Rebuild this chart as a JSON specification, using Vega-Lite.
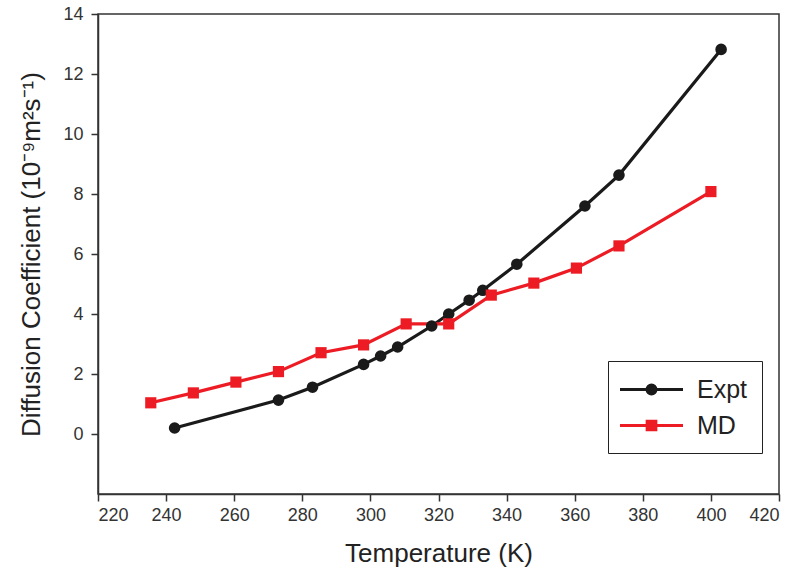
{
  "$schema": "https://vega.github.io/schema/vega-lite/v6.json",
  "width": 681,
  "height": 480,
  "autosize": {"type": "none"},
  "padding": {"left": 98, "top": 14, "right": 21, "bottom": 84},
  "background": "white",
  "config": {
    "font": "Liberation Sans",
    "view": {"stroke": "#333333", "strokeWidth": 1.5},
    "axis": {
      "grid": false,
      "domainColor": "#333333",
      "domainWidth": 1.5,
      "tickColor": "#333333",
      "tickWidth": 1.5,
      "tickSize": 7,
      "labelFont": "Liberation Sans",
      "labelFontSize": 18,
      "labelColor": "#333333",
      "titleFont": "Liberation Sans",
      "titleFontSize": 26,
      "titleFontWeight": "normal",
      "titleColor": "#222222"
    }
  },
  "data": {
    "values": [
      {"series": "Expt", "T": 242.5, "D": 0.2},
      {"series": "Expt", "T": 273, "D": 1.13},
      {"series": "Expt", "T": 283, "D": 1.56},
      {"series": "Expt", "T": 298, "D": 2.32},
      {"series": "Expt", "T": 303, "D": 2.6},
      {"series": "Expt", "T": 308, "D": 2.9},
      {"series": "Expt", "T": 318, "D": 3.6},
      {"series": "Expt", "T": 323, "D": 4.0},
      {"series": "Expt", "T": 329, "D": 4.46},
      {"series": "Expt", "T": 333, "D": 4.79},
      {"series": "Expt", "T": 343, "D": 5.66},
      {"series": "Expt", "T": 363, "D": 7.6},
      {"series": "Expt", "T": 373, "D": 8.63},
      {"series": "Expt", "T": 403, "D": 12.82},
      {"series": "MD", "T": 235.5, "D": 1.04},
      {"series": "MD", "T": 248, "D": 1.37},
      {"series": "MD", "T": 260.5, "D": 1.73},
      {"series": "MD", "T": 273, "D": 2.08},
      {"series": "MD", "T": 285.5, "D": 2.71},
      {"series": "MD", "T": 298, "D": 2.97},
      {"series": "MD", "T": 310.5, "D": 3.67},
      {"series": "MD", "T": 323, "D": 3.67},
      {"series": "MD", "T": 335.5, "D": 4.63},
      {"series": "MD", "T": 348, "D": 5.03},
      {"series": "MD", "T": 360.5, "D": 5.53},
      {"series": "MD", "T": 373, "D": 6.27},
      {"series": "MD", "T": 400, "D": 8.08}
    ]
  },
  "encoding": {
    "x": {
      "field": "T",
      "type": "quantitative",
      "scale": {"domain": [220, 420], "nice": false, "zero": false},
      "axis": {"values": [220, 240, 260, 280, 300, 320, 340, 360, 380, 400, 420], "title": "Temperature (K)", "titlePadding": 16, "labelPadding": 5}
    },
    "y": {
      "field": "D",
      "type": "quantitative",
      "scale": {"domain": [-2, 14], "nice": false, "zero": false},
      "axis": {"values": [0, 2, 4, 6, 8, 10, 12, 14], "title": "Diffusion Coefficient (10⁻⁹m²s⁻¹)", "titlePadding": 18, "labelPadding": 8}
    }
  },
  "layer": [
    {
      "mark": {"type": "line", "strokeWidth": 3.2},
      "encoding": {
        "color": {
          "field": "series",
          "type": "nominal",
          "scale": {"domain": ["Expt", "MD"], "range": ["#1a1a1a", "#ed1c24"]},
          "legend": {
            "title": null,
            "orient": "none",
            "legendX": 510,
            "legendY": 347,
            "strokeColor": "#222222",
            "fillColor": "white",
            "padding": 14,
            "labelFontSize": 25,
            "labelFont": "Liberation Sans",
            "labelColor": "#222222",
            "labelOffset": 14,
            "rowPadding": 8,
            "symbolSize": 625,
            "encode": {
              "symbols": {
                "update": {
                  "x": {"value": 29.5},
                  "shape": {"signal": "datum.value === 'Expt' ? 'M-2.52,0L2.52,0M0.35,0A0.35,0.35,0,1,1,-0.35,0A0.35,0.35,0,1,1,0.35,0Z' : 'M-2.52,0L2.52,0M-0.34,-0.34L0.34,-0.34L0.34,0.34L-0.34,0.34Z'"},
                  "fill": {"signal": "datum.value === 'Expt' ? '#1a1a1a' : '#ed1c24'"},
                  "stroke": {"signal": "datum.value === 'Expt' ? '#1a1a1a' : '#ed1c24'"},
                  "strokeWidth": {"value": 3.2},
                  "opacity": {"value": 1}
                }
              },
              "labels": {
                "update": {
                  "x": {"value": 75}
                }
              }
            }
          }
        }
      }
    },
    {
      "transform": [{"filter": "datum.series === 'Expt'"}],
      "mark": {"type": "point", "filled": true, "opacity": 1, "shape": "circle", "size": 135, "color": "#1a1a1a"}
    },
    {
      "transform": [{"filter": "datum.series === 'MD'"}],
      "mark": {"type": "point", "filled": true, "opacity": 1, "shape": "square", "size": 125, "color": "#ed1c24"}
    }
  ]
}
